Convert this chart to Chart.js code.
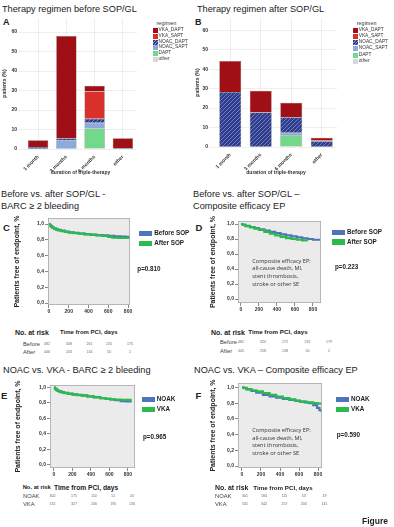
<!DOCTYPE html>
<html>
<head>
<meta charset="utf-8">
<script src="https://cdn.jsdelivr.net/npm/chart.js@4.4.1/dist/chart.umd.min.js"></script>
<style>
html, body { margin: 0; padding: 0; background: #fff; }
#fig { position: relative; width: 394px; height: 527px; overflow: hidden; font-family: "Liberation Sans", Arial, sans-serif; color: #222; }
#fig canvas { position: absolute; }
.t { position: absolute; white-space: nowrap; line-height: 1; }
.sw { position: absolute; }
</style>
</head>
<body>
<div id="fig"></div>
<script>
// ---- bar panels (A before, B after), % of patients, stacked bottom -> top
const durations = ["1 month", "3 months", "6 months", "other"]
const regimenNames = ["other", "DAPT", "NOAC_SAPT", "NOAC_DAPT", "VKA_SAPT", "VKA_DAPT"]
const beforeOther = [0, 0, 0.5, 0]
const beforeDapt = [0, 0, 10, 0]
const beforeNoacSapt = [0, 4.5, 3, 0]
const beforeNoacDapt = [1, 1, 2, 0.5]
const beforeVkaSapt = [0, 0, 14, 0]
const beforeVkaDapt = [3.5, 52.5, 3, 5]
const afterOther = [0, 0, 0.5, 0]
const afterDapt = [0, 0, 5.5, 0]
const afterNoacSapt = [0, 0, 1.3, 0]
const afterNoacDapt = [28.3, 17.7, 8, 3]
const afterVkaSapt = [0, 0, 0, 0.5]
const afterVkaDapt = [15.9, 11.2, 7.4, 1.3]
const pctTicks = [0, 10, 20, 30, 40, 50, 60]

// ---- Kaplan-Meier panels, days vs. fraction free of endpoint
const kmDayTicks = [0, 200, 400, 600, 800]
const kmSurvTicks = [0, 0.2, 0.4, 0.6, 0.8, 1.0]

const cBeforeDays = [0, 10, 20, 35, 50, 70, 90, 120, 160, 200, 250, 300, 360, 420, 480, 540, 600, 660, 720, 780, 820]
const cBeforeSurv = [1, 0.985, 0.97, 0.955, 0.945, 0.935, 0.925, 0.915, 0.905, 0.895, 0.888, 0.88, 0.872, 0.866, 0.86, 0.855, 0.85, 0.843, 0.84, 0.838, 0.838]
const cAfterDays = [0, 10, 20, 35, 50, 70, 90, 120, 160, 200, 250, 300, 360, 420, 480, 540, 600, 640, 700, 760, 820]
const cAfterSurv = [1, 0.983, 0.965, 0.952, 0.94, 0.93, 0.92, 0.91, 0.9, 0.892, 0.885, 0.877, 0.869, 0.862, 0.855, 0.848, 0.838, 0.826, 0.825, 0.825, 0.825]

const dBeforeDays = [0, 20, 50, 100, 150, 200, 260, 320, 380, 440, 500, 560, 620, 680, 740, 800, 870]
const dBeforeSurv = [1, 0.99, 0.975, 0.96, 0.945, 0.93, 0.913, 0.895, 0.878, 0.862, 0.848, 0.835, 0.822, 0.81, 0.8, 0.79, 0.778]
const dAfterDays = [0, 20, 50, 100, 150, 200, 260, 320, 380, 440, 500, 560, 620, 680, 740]
const dAfterSurv = [1, 0.99, 0.972, 0.955, 0.937, 0.92, 0.895, 0.87, 0.848, 0.828, 0.812, 0.8, 0.79, 0.782, 0.78]

const eNoakDays = [0, 10, 25, 40, 55, 80, 110, 150, 200, 250, 300, 360, 430, 500, 560, 610, 660, 720, 780, 840]
const eNoakSurv = [1, 0.985, 0.97, 0.958, 0.95, 0.94, 0.93, 0.92, 0.912, 0.905, 0.897, 0.886, 0.875, 0.862, 0.852, 0.845, 0.835, 0.822, 0.82, 0.82]
const eVkaDays = [0, 10, 25, 40, 55, 80, 110, 150, 200, 250, 300, 360, 430, 500, 560, 610, 660, 720, 780, 840]
const eVkaSurv = [1, 0.983, 0.966, 0.955, 0.946, 0.937, 0.928, 0.918, 0.909, 0.902, 0.894, 0.884, 0.873, 0.862, 0.853, 0.847, 0.843, 0.84, 0.84, 0.84]

const fNoakDays = [0, 20, 50, 100, 150, 220, 290, 360, 430, 500, 560, 610, 660, 710, 750, 790, 815, 840]
const fNoakSurv = [1, 0.99, 0.975, 0.955, 0.935, 0.905, 0.885, 0.87, 0.855, 0.842, 0.83, 0.82, 0.81, 0.8, 0.775, 0.74, 0.71, 0.685]
const fVkaDays = [0, 20, 50, 100, 150, 220, 290, 360, 430, 500, 560, 610, 680, 750, 800, 840]
const fVkaSurv = [1, 0.995, 0.98, 0.965, 0.95, 0.93, 0.905, 0.885, 0.865, 0.848, 0.832, 0.82, 0.81, 0.8, 0.795, 0.79]

// ---- numbers at risk (0, 200, 400, 600, 800 days)
const cRiskBefore = [482, 308, 261, 220, 175]
const cRiskAfter = [446, 243, 134, 50, 2]
const dRiskBefore = [482, 320, 272, 232, 179]
const dRiskAfter = [445, 258, 138, 50, 2]
const eRiskNoak = [302, 175, 110, 51, 20]
const eRiskVka = [531, 327, 246, 195, 136]
const fRiskNoak = [301, 184, 115, 53, 19]
const fRiskVka = [531, 342, 257, 200, 141]

const FONT = '"Liberation Sans", Arial, sans-serif'
Chart.defaults.font.family = FONT
const fig = document.getElementById("fig")

const BLUE = "#4f74bb"
const GREEN = "#2bbb4c"

function hatch(bg, fg) {
    const p = document.createElement("canvas")
    p.width = 4
    p.height = 4
    const g = p.getContext("2d")
    g.fillStyle = bg
    g.fillRect(0, 0, 4, 4)
    g.strokeStyle = fg
    g.lineWidth = 0.7
    g.beginPath()
    g.moveTo(0, 4); g.lineTo(4, 0)
    g.moveTo(-1, 1); g.lineTo(1, -1)
    g.moveTo(3, 5); g.lineTo(5, 3)
    g.stroke()
    return g.createPattern(p, "repeat")
}

const regimenFill = {
    other: "#d9d9d9",
    DAPT: "#72d98a",
    NOAC_SAPT: "#8eaadb",
    NOAC_DAPT: hatch("#2f3d8c", "#8c9bd6"),
    VKA_SAPT: "#d9302c",
    VKA_DAPT: "#a10f16",
}
const regimenCss = {
    other: "#d9d9d9",
    DAPT: "#72d98a",
    NOAC_SAPT: "#8eaadb",
    NOAC_DAPT: "repeating-linear-gradient(135deg,#2f3d8c 0 1.5px,#8c9bd6 1.5px 2.2px)",
    VKA_SAPT: "#d9302c",
    VKA_DAPT: "#a10f16",
}

function text(str, x, yc, size, opts = {}) {
    const d = document.createElement("div")
    d.className = "t"
    d.textContent = str
    d.style.left = x + "px"
    d.style.top = yc - size * 0.5 + "px"
    d.style.fontSize = size + "px"
    if (opts.bold) d.style.fontWeight = "bold"
    if (opts.color) d.style.color = opts.color
    if (opts.center) d.style.transform = "translateX(-50%)"
    if (opts.family) d.style.fontFamily = opts.family
    fig.appendChild(d)
    return d
}

function swatch(x, y, w, h, bg) {
    const d = document.createElement("div")
    d.className = "sw"
    d.style.left = x + "px"
    d.style.top = y + "px"
    d.style.width = w + "px"
    d.style.height = h + "px"
    d.style.background = bg
    fig.appendChild(d)
}

function placeCanvas(box) {
    const c = document.createElement("canvas")
    const w = box.R - box.L
    const h = box.B - box.T
    c.width = w
    c.height = h
    c.style.left = box.L + "px"
    c.style.top = box.T + "px"
    c.style.width = w + "px"
    c.style.height = h + "px"
    fig.appendChild(c)
    return c
}

const plotBg = {
    id: "plotBg",
    beforeDraw(chart, args, opts) {
        if (!opts.color) return
        const { ctx, chartArea: a } = chart
        ctx.save()
        ctx.fillStyle = opts.color
        ctx.fillRect(a.left, a.top, a.width, a.height)
        ctx.restore()
    },
    afterDatasetsDraw(chart, args, opts) {
        if (!opts.border) return
        const { ctx, chartArea: a } = chart
        ctx.save()
        ctx.strokeStyle = opts.border
        ctx.lineWidth = 0.8
        ctx.strokeRect(a.left + 0.4, a.top + 0.4, a.width - 0.8, a.height - 0.8)
        ctx.restore()
    },
}
Chart.register(plotBg)

function barChart(box, plot, yMax, values) {
    const canvas = placeCanvas(box)
    return new Chart(canvas, {
        type: "bar",
        data: {
            labels: durations,
            datasets: regimenNames.map((name, i) => ({
                label: name,
                data: values[i],
                backgroundColor: regimenFill[name],
                borderColor: "#6b6b6b",
                borderWidth: 0.5,
                barPercentage: 0.72,
                categoryPercentage: 1,
            })),
        },
        options: {
            responsive: false,
            animation: false,
            events: [],
            layout: { padding: { left: 0, top: plot.t - box.T, right: box.R - plot.r, bottom: 0 } },
            plugins: { legend: { display: false }, tooltip: { enabled: false } },
            scales: {
                x: {
                    stacked: true,
                    offset: true,
                    grid: { offset: false, color: "#e6e6e6", lineWidth: 0.7, drawTicks: false },
                    border: { display: false },
                    ticks: { font: { size: 5, weight: "bold" }, color: "#333", minRotation: 45, maxRotation: 45, padding: 5 },
                    title: { display: true, text: "duration of triple-therapy", font: { size: 5, weight: "bold" }, color: "#333", padding: 0 },
                    afterFit: (s) => { s.height = box.B - plot.b },
                },
                y: {
                    stacked: true,
                    min: 0,
                    max: yMax,
                    afterBuildTicks: (s) => { s.ticks = pctTicks.map((v) => ({ value: v })) },
                    grid: { color: "#e6e6e6", lineWidth: 0.7, tickLength: 6 },
                    border: { display: false },
                    ticks: { font: { size: 5, weight: "bold" }, color: "#333", padding: 1 },
                    title: { display: true, text: "patients (%)", font: { size: 5, weight: "bold" }, color: "#333", padding: { top: box.L === 0 ? 2 : 0, bottom: 0 } },
                    afterFit: (s) => { s.width = plot.l - box.L },
                },
            },
        },
    })
}

function kmChart(box, plot, xr, yr, curves) {
    const canvas = placeCanvas(box)
    return new Chart(canvas, {
        type: "line",
        data: {
            datasets: curves.map((c) => ({
                data: c.days.map((d, i) => ({ x: d, y: c.surv[i] })),
                borderColor: c.color,
                borderWidth: 2.2,
                stepped: true,
                pointRadius: 0,
                fill: false,
            })),
        },
        options: {
            responsive: false,
            animation: false,
            events: [],
            layout: { padding: { left: 0, top: plot.t - box.T, right: box.R - plot.r, bottom: 0 } },
            plugins: {
                legend: { display: false },
                tooltip: { enabled: false },
                plotBg: { color: "#ebebeb", border: "#a9a9a9" },
            },
            scales: {
                x: {
                    type: "linear",
                    min: xr[0],
                    max: xr[1],
                    afterBuildTicks: (s) => { s.ticks = kmDayTicks.map((v) => ({ value: v })) },
                    grid: { drawOnChartArea: false, tickLength: 3, color: "#555", lineWidth: 0.7 },
                    border: { display: false },
                    ticks: { font: { size: 5, weight: "bold" }, color: "#333", padding: 1, maxRotation: 0 },
                    afterFit: (s) => { s.height = box.B - plot.b },
                },
                y: {
                    min: yr[0],
                    max: yr[1],
                    afterBuildTicks: (s) => { s.ticks = kmSurvTicks.map((v) => ({ value: v })) },
                    grid: { drawOnChartArea: false, tickLength: 3, color: "#555", lineWidth: 0.7 },
                    border: { display: false },
                    ticks: {
                        font: { size: 5, weight: "bold" },
                        color: "#333",
                        padding: 1,
                        callback: (v) => v.toFixed(1).replace(".", ","),
                    },
                    title: { display: true, text: "Patients free of endpoint, %", font: { size: 7, weight: "bold" }, color: "#222", padding: 0 },
                    afterFit: (s) => { s.width = plot.l - box.L },
                },
            },
        },
    })
}

function riskTable(xHead, xTime, yHead, headSize, timeSize, xRow, rows, cols) {
    text("No. at risk", xHead, yHead, headSize, { bold: true })
    text("Time from PCI, days", xTime, yHead, timeSize, { bold: true })
    rows.forEach((r) => {
        text(r.name, xRow, r.y, 5.8, { color: "#444" })
        r.values.forEach((v, i) => text(String(v), cols[i], r.y, 3.5, { color: "#666", center: true }))
    })
}

function kmLegend(x, y1, y2, names, px, py, pval) {
    swatch(x, y1 - 2.7, 13, 5.4, BLUE)
    swatch(x, y2 - 2.7, 13, 5.4, GREEN)
    text(names[0], x + 15, y1, 6.3, { bold: true })
    text(names[1], x + 15, y2, 6.3, { bold: true })
    text(pval, px, py, 6.3, { bold: true })
}

function noteBox(x, ys) {
    const lines = ["Composite efficacy EP:", "all-cause death, MI,", "stent thrombosis,", "stroke or other SE"]
    lines.forEach((l, i) => text(l, x, ys[i], 5.6, { color: "#333", family: '"Open Sans", "Liberation Sans", sans-serif' }))
}

function regimenLegend(x, yTitle, ys) {
    text("regimen", x + 4, yTitle, 5.5, { color: "#333" })
    const order = ["VKA_DAPT", "VKA_SAPT", "NOAC_DAPT", "NOAC_SAPT", "DAPT", "other"]
    order.forEach((name, i) => {
        swatch(x, ys[i] - 2.5, 5, 5, regimenCss[name])
        text(name, x + 6, ys[i], 4.8, { color: "#333" })
    })
}

// ---- panel A / B
text("Therapy regimen before SOP/GL", 2, 9.2, 9.2)
text("Therapy regimen after SOP/GL", 197, 9.2, 9.2)
text("A", 3, 22, 9, { bold: true })
text("B", 195, 22, 9, { bold: true })

barChart({ L: 0, T: 14, R: 141, B: 176 }, { l: 24, t: 18, r: 137, b: 149 }, 67.2,
    [beforeOther, beforeDapt, beforeNoacSapt, beforeNoacDapt, beforeVkaSapt, beforeVkaDapt])
barChart({ L: 195, T: 14, R: 341, B: 176 }, { l: 215, t: 18, r: 337, b: 147 }, 66.3,
    [afterOther, afterDapt, afterNoacSapt, afterNoacDapt, afterVkaSapt, afterVkaDapt])

regimenLegend(152.5, 23.7, [30.7, 36.3, 42, 47.7, 53.3, 59])
regimenLegend(352.7, 23.3, [30, 36.2, 42.6, 48.8, 55, 61.2])

// ---- panel C / D
text("Before vs. after SOP/GL -", 1, 194.5, 9.2)
text("BARC \u2265 2 bleeding", 1, 206.7, 9.2)
text("Before vs. after SOP/GL \u2013", 193, 194.5, 9.2)
text("Composite efficacy EP", 193, 206.7, 9.2)
text("C", 3, 227.5, 9.5, { bold: true })
text("D", 195.5, 227.5, 9.5, { bold: true })

kmChart({ L: 13, T: 212, R: 136, B: 318 }, { l: 48, t: 218, r: 130, b: 305 }, [-10, 820], [-0.025, 1.076], [
    { days: cAfterDays, surv: cAfterSurv, color: GREEN },
    { days: cBeforeDays, surv: cBeforeSurv, color: BLUE },
])
kmChart({ L: 209, T: 215, R: 327, B: 316 }, { l: 238, t: 221, r: 321, b: 303 }, [-33, 889], [-0.053, 1.04], [
    { days: dAfterDays, surv: dAfterSurv, color: GREEN },
    { days: dBeforeDays, surv: dBeforeSurv, color: BLUE },
])

kmLegend(139.3, 233.2, 243.5, ["Before SOP", "After SOP"], 137.3, 269, "p=0.810")
kmLegend(332, 232.5, 242, ["Before SOP", "After SOP"], 335, 267.3, "p=0.223")
noteBox(252.3, [261.5, 269.1, 276.7, 284.3])

riskTable(15, 60, 332.3, 7, 6, 23, [
    { name: "Before", values: cRiskBefore, y: 345 },
    { name: "After", values: cRiskAfter, y: 352.7 },
], [47, 69, 89.5, 109, 130])
riskTable(211, 248.3, 332.3, 7, 6.2, 220, [
    { name: "Before", values: dRiskBefore, y: 342.7 },
    { name: "After", values: dRiskAfter, y: 351.7 },
], [241, 263, 285, 307.5, 329])

// ---- panel E / F
text("NOAC vs. VKA - BARC \u2265 2 bleeding", 3, 370.5, 9.2)
text("NOAC vs. VKA \u2013 Composite efficacy EP", 194, 370.5, 9.2)
text("E", 1, 396, 9.5, { bold: true })
text("F", 195.5, 396, 9.5, { bold: true })

kmChart({ L: 14, T: 379, R: 141, B: 481 }, { l: 50, t: 385, r: 135, b: 468 }, [-43, 876], [-0.039, 1.032], [
    { days: eVkaDays, surv: eVkaSurv, color: GREEN },
    { days: eNoakDays, surv: eNoakSurv, color: BLUE },
])
kmChart({ L: 209, T: 377, R: 328, B: 481 }, { l: 238, t: 383, r: 322, b: 468 }, [-42, 842], [-0.025, 1.057], [
    { days: fVkaDays, surv: fVkaSurv, color: GREEN },
    { days: fNoakDays, surv: fNoakSurv, color: BLUE },
])

kmLegend(141.7, 399.5, 409.5, ["NOAK", "VKA"], 143, 437.3, "p=0.965")
kmLegend(336, 399.5, 409.5, ["NOAK", "VKA"], 336.7, 435, "p=0.590")
noteBox(252.3, [430.7, 438.3, 446, 453.7])

riskTable(22.7, 54, 488.3, 5.8, 6.7, 23, [
    { name: "NOAK", values: eRiskNoak, y: 496.7 },
    { name: "VKA", values: eRiskVka, y: 505 },
], [52.5, 74, 94, 113.3, 132])
riskTable(215, 253.3, 488.3, 6.9, 6.2, 215, [
    { name: "NOAK", values: fRiskNoak, y: 496.7 },
    { name: "VKA", values: fRiskVka, y: 505 },
], [245, 264, 284.5, 303.7, 324.5])

text("Figure", 362, 521, 8.5, { bold: true })
</script>
</body>
</html>
